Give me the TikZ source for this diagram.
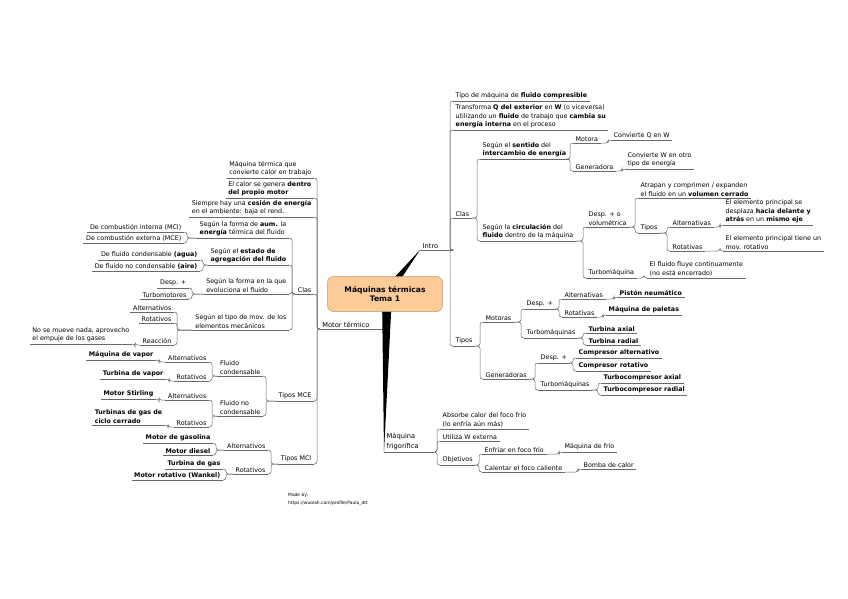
\documentclass[tikz,border=0pt]{standalone}
\usepackage{fontspec}
\setmainfont{DejaVu Sans}
\usetikzlibrary{calc}
\definecolor{node-orange}{RGB}{252,203,152}
\definecolor{node-border}{RGB}{185,150,115}
\definecolor{line-grey}{RGB}{105,105,105}
\newcommand\mapfont{\fontsize{6.35}{8.6}\selectfont}
\newcommand\branchfont{\fontsize{6.7}{10.5}\selectfont}
\newcommand\madefont{\fontsize{4.4}{8.5}\selectfont}

\tikzset{
	uline/.style={draw=line-grey,line width=.5pt},
	link/.style={uline,rounded corners=2.5pt},
	topic/.style={font=\mapfont,align=left,anchor=south west,inner xsep=2.5pt,inner ysep=1.6pt,
		append after command={(\tikzlastnode.south west) edge[uline] (\tikzlastnode.south east)}},
	ltopic/.style={topic,anchor=south east},
	branch/.style={topic,font=\branchfont},
	mainnode/.style={draw=node-border,fill=node-orange,rounded corners=6pt,line width=.5pt,
		minimum width=115pt,minimum height=35pt,align=center,
		font=\fontsize{7.6}{9.5}\selectfont\bfseries}
}

\begin{document}
\begin{tikzpicture}[x=1pt,y=-1pt]
	\useasboundingbox (0,0) rectangle (848,599);
	\coordinate (c) at (385,294);
	
	% rama derecha: Intro
	\node[branch,text width=25pt] (intro) at (420,250) {Intro};
	\node[topic] (tipoc) at (453,101) {Tipo de máquina de \textbf{fluido compresible}};
	\node[topic] (transf) at (453,130) {Transforma \textbf{Q del exterior} en \textbf{W} (o viceversa)\\utilizando un \textbf{fluido} de trabajo que \textbf{cambia su}\\\textbf{energía interna} en el proceso};
	\node[topic] (clasR) at (453,218) {Clas};
	\node[topic] (tiposR) at (453,346) {Tipos};
	
	\node[topic] (sentido) at (480,159) {Según el \textbf{sentido} del\\\textbf{intercambio de energía}};
	\node[topic] (motora) at (573,143) {Motora};
	\node[topic] (convQW) at (611,140) {Convierte Q en W};
	\node[topic] (generad) at (573,171) {Generadora};
	\node[topic] (convWo) at (625,169) {Convierte W en otro\\tipo de energía};
	
	\node[topic] (circ) at (480,241) {Según la \textbf{circulación} del\\\textbf{fluido} dentro de la máquina};
	\node[topic] (despo) at (586,227) {Desp. + o\\volumétrica};
	\node[topic] (atrapan) at (638,198) {Atrapan y comprimen / expanden\\el fluido en un \textbf{volumen cerrado}};
	\node[topic] (tiposD) at (638,233) {Tipos};
	\node[topic] (altR) at (670,227) {Alternativas};
	\node[topic] (altRtxt) at (723,225) {El elemento principal se\\desplaza \textbf{hacia delante y}\\\textbf{atrás} en un \textbf{mismo eje}};
	\node[topic] (rotR) at (670,251) {Rotativas};
	\node[topic] (rotRtxt) at (723,251) {El elemento principal tiene un\\mov. rotativo};
	\node[topic] (turboR) at (586,278) {Turbomáquina};
	\node[topic] (turboRtxt) at (647,278) {El fluido fluye continuamente\\(no está encerrado)};
	
	\node[topic] (motoras) at (483,322) {Motoras};
	\node[topic] (despM) at (524,309) {Desp. +};
	\node[topic] (altM) at (562,299) {Alternativas};
	\node[topic] (piston) at (617,297) {\textbf{Pistón neumático}};
	\node[topic] (rotM) at (562,317) {Rotativas};
	\node[topic] (paletas) at (606,315) {\textbf{Máquina de paletas}};
	\node[topic] (turboM) at (524,338) {Turbomáquinas};
	\node[topic] (taxial) at (586,333) {\textbf{Turbina axial}};
	\node[topic] (tradial) at (586,345) {\textbf{Turbina radial}};
	\node[topic] (generadoras) at (483,379) {Generadoras};
	\node[topic] (despG) at (538,363) {Desp. +};
	\node[topic] (calt) at (576,358) {\textbf{Compresor alternativo}};
	\node[topic] (crot) at (576,371) {\textbf{Compresor rotativo}};
	\node[topic] (turboG) at (538,390) {Turbomáquinas};
	\node[topic] (tcaxial) at (601,383) {\textbf{Turbocompresor axial}};
	\node[topic] (tcradial) at (601,395) {\textbf{Turbocompresor radial}};
	
	% rama abajo: Maquina frigorifica
	\node[branch,text width=45pt] (frig) at (384,452) {Máquina\\frigorífica};
	\node[topic] (absorbe) at (440,429) {Absorbe calor del foco frío\\(lo enfría aún más)};
	\node[topic] (utiliza) at (440,441) {Utiliza W externa};
	\node[topic] (objetivos) at (440,465) {Objetivos};
	\node[topic] (enfriar) at (482,454) {Enfriar en foco frío};
	\node[topic] (mfrio) at (562,452) {Máquina de frío};
	\node[topic] (calentar) at (482,472) {Calentar el foco caliente};
	\node[topic] (bomba) at (581,469) {Bomba de calor};
	
	% rama izquierda: Motor termico
	\node[branch,anchor=south east,text width=60pt] (mt) at (385,329) {Motor térmico};
	\node[ltopic] (mtq) at (314,178) {Máquina térmica que\\convierte calor en trabajo};
	\node[ltopic] (calor) at (314,198) {El calor se genera \textbf{dentro}\\\textbf{del propio motor}};
	\node[ltopic] (cesion) at (314,217) {Siempre hay una \textbf{cesión de energía}\\en el ambiente: baja el rend.};
	\node[ltopic] (clasL) at (314,294) {Clas};
	\node[ltopic] (tmce) at (314,401) {Tipos MCE};
	\node[ltopic] (tmci) at (314,464) {Tipos MCI};
	
	\node[ltopic] (aum) at (289,238) {Según la forma de \textbf{aum.} la\\\textbf{energía} térmica del fluido};
	\node[ltopic] (mci) at (184,232) {De combustión interna (MCI)};
	\node[ltopic] (mce) at (184,243) {De combustión externa (MCE)};
	\node[ltopic] (estado) at (289,265) {Según el \textbf{estado de}\\\textbf{agregación del fluido}};
	\node[ltopic] (condens) at (200,260) {De fluido condensable \textbf{(agua)}};
	\node[ltopic] (nocond) at (200,271) {De fluido no condensable \textbf{(aire)}};
	\node[ltopic] (evol) at (289,294) {Según la forma en la que\\evoluciona el fluido};
	\node[ltopic] (despL) at (189,288) {Desp. +};
	\node[ltopic] (turbomot) at (189,299) {Turbomotores};
	\node[ltopic] (mov) at (289,330) {Según el tipo de mov. de los\\elementos mecánicos};
	\node[ltopic] (altL) at (174,312) {Alternativos};
	\node[ltopic] (rotL) at (174,323) {Rotativos};
	\node[ltopic] (reaccion) at (174,345) {Reacción};
	\node[ltopic] (nomueve) at (132,344) {No se mueve nada, aprovecho\\el empuje de los gases};
	
	\node[ltopic] (fcond) at (263,376) {Fluido\\condensable};
	\node[ltopic] (altC) at (209,362) {Alternativos};
	\node[ltopic] (mvapor) at (156,360) {\textbf{Máquina de vapor}};
	\node[ltopic] (rotC) at (209,381) {Rotativos};
	\node[ltopic] (tvapor) at (166,379) {\textbf{Turbina de vapor}};
	\node[ltopic] (fnocond) at (263,416) {Fluido no\\condensable};
	\node[ltopic] (altN) at (209,400) {Alternativos};
	\node[ltopic] (stirling) at (156,399) {\textbf{Motor Stirling}};
	\node[ltopic] (rotN) at (209,427) {Rotativos};
	\node[ltopic] (tgas) at (165,425) {\textbf{Turbinas de gas de}\\\textbf{ciclo cerrado}};
	
	\node[ltopic] (altI) at (268,450) {Alternativos};
	\node[ltopic] (gasolina) at (213,443) {\textbf{Motor de gasolina}};
	\node[ltopic] (diesel) at (213,455) {\textbf{Motor diesel}};
	\node[ltopic] (rotI) at (268,474) {Rotativos};
	\node[ltopic] (turbgas) at (223,469) {\textbf{Turbina de gas}};
	\node[ltopic] (wankel) at (223,480) {\textbf{Motor rotativo (Wankel)}};
	
	% conectores
	\foreach \p/\q in {intro/tipoc,intro/transf,intro/clasR,intro/tiposR,
		clasR/sentido,clasR/circ,sentido/motora,sentido/generad,motora/convQW,generad/convWo,
		circ/despo,circ/turboR,despo/atrapan,despo/tiposD,tiposD/altR,tiposD/rotR,
		altR/altRtxt,rotR/rotRtxt,turboR/turboRtxt,
		tiposR/motoras,tiposR/generadoras,motoras/despM,motoras/turboM,despM/altM,despM/rotM,
		altM/piston,rotM/paletas,turboM/taxial,turboM/tradial,generadoras/despG,generadoras/turboG,
		despG/calt,despG/crot,turboG/tcaxial,turboG/tcradial,
		frig/absorbe,frig/utiliza,frig/objetivos,objetivos/enfriar,objetivos/calentar,
		enfriar/mfrio,calentar/bomba}
		\draw[link] (\p.south east) -| ($(\q.south west)+(-3,0)$) -- (\q.south west);
	\foreach \p/\q in {mt/mtq,mt/calor,mt/cesion,mt/clasL,mt/tmce,mt/tmci,
		clasL/aum,clasL/estado,clasL/evol,clasL/mov,aum/mci,aum/mce,estado/condens,estado/nocond,
		evol/despL,evol/turbomot,mov/altL,mov/rotL,mov/reaccion,reaccion/nomueve,
		tmce/fcond,tmce/fnocond,fcond/altC,fcond/rotC,altC/mvapor,rotC/tvapor,
		fnocond/altN,fnocond/rotN,altN/stirling,rotN/tgas,
		tmci/altI,tmci/rotI,altI/gasolina,altI/diesel,rotI/turbgas,rotI/wankel}
		\draw[link] (\p.south west) -| ($(\q.south east)+(3,0)$) -- (\q.south east);
	
	% cunas negras desde el centro
	\fill ($(c)+(-6,0)$) -- (intro.south west) -- ($(c)+(6,0)$) -- cycle;
	\fill ($(c)+(-4,0)$) -- (mt.south east) -- ($(c)+(4,0)$) -- cycle;
	\fill ($(c)+(-3,0)$) -- (frig.south west) -- ($(c)+(7,0)$) -- cycle;
	
	\node[mainnode] (main) at (c) {Máquinas térmicas\\Tema 1};
	
	\node[font=\madefont,align=left,anchor=south west,inner sep=0pt] (madeby) at (288,506)
		{Made by:\\https://wuolah.com/profile/Paula\_dtt};
\end{tikzpicture}
\end{document}
